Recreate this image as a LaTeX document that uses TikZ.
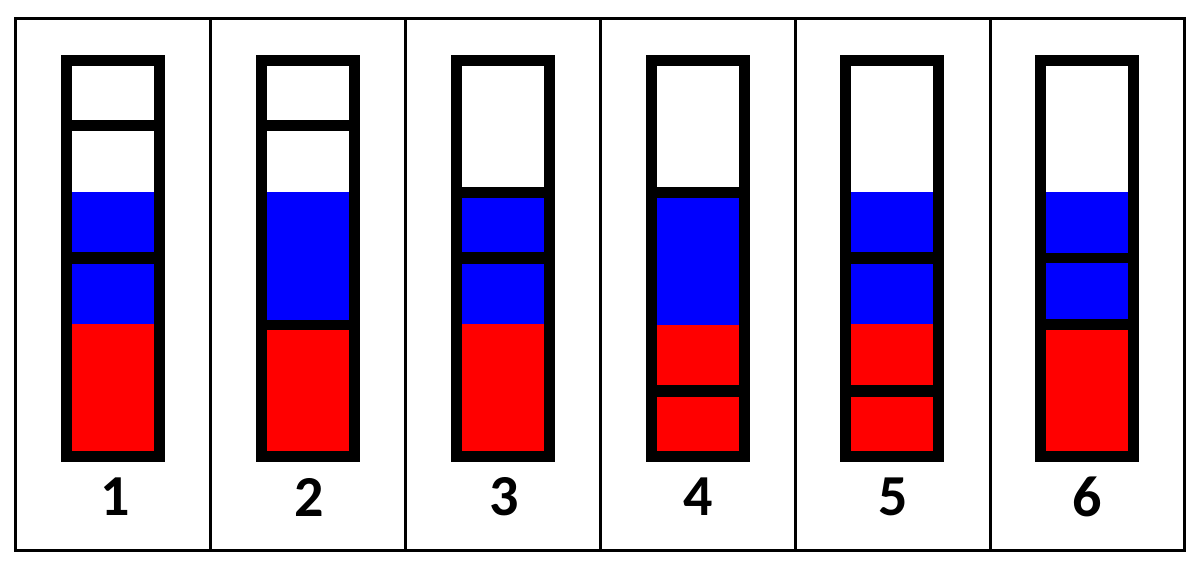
\documentclass[tikz,border=0pt]{standalone}
\usepackage{fontspec}
\setmainfont{Carlito}
\definecolor{tubeblue}{RGB}{0,0,255}
\definecolor{tubered}{RGB}{255,0,0}
\tikzset{
  frameline/.style={draw=black,line width=3pt},
  tubebody/.style={fill=black},
  wseg/.style={fill=white},
  bseg/.style={fill=tubeblue},
  rseg/.style={fill=tubered},
  numlabel/.style={font=\bfseries\fontsize{58}{58}\selectfont,inner sep=0pt,anchor=center}
}
\newcommand\tubeseg[4]{\fill[#1] (#2-41,#3) rectangle (#2+41,#4);}
\newcommand\tubebody[1]{\fill[tubebody] (#1-52,55) rectangle (#1+52,462);}
\begin{document}
\begin{tikzpicture}[x=1pt,y=-1pt]
\useasboundingbox (0,0) rectangle (1200,568);
\fill[white] (0,0) rectangle (1200,568);
% frame
\draw[frameline] (15,18) rectangle (1184,550);
\foreach \xx in {210,405,600,795,990} \draw[frameline] (\xx,18) -- (\xx,550);
% tube 1
\tubebody{112.5}
\tubeseg{wseg}{112.5}{66}{120}
\tubeseg{wseg}{112.5}{131}{192}
\tubeseg{bseg}{112.5}{192}{252}
\tubeseg{bseg}{112.5}{264}{324}
\tubeseg{rseg}{112.5}{324}{451}
% tube 2
\tubebody{307.5}
\tubeseg{wseg}{307.5}{66}{120}
\tubeseg{wseg}{307.5}{131}{192}
\tubeseg{bseg}{307.5}{192}{320}
\tubeseg{rseg}{307.5}{330}{451}
% tube 3
\tubebody{502.5}
\tubeseg{wseg}{502.5}{66}{187}
\tubeseg{bseg}{502.5}{198}{252}
\tubeseg{bseg}{502.5}{264}{324}
\tubeseg{rseg}{502.5}{324}{451}
% tube 4
\tubebody{697.5}
\tubeseg{wseg}{697.5}{66}{187}
\tubeseg{bseg}{697.5}{198}{325}
\tubeseg{rseg}{697.5}{325}{385}
\tubeseg{rseg}{697.5}{397}{451}
% tube 5
\tubebody{892}
\tubeseg{wseg}{892}{66}{192}
\tubeseg{bseg}{892}{192}{252}
\tubeseg{bseg}{892}{264}{324}
\tubeseg{rseg}{892}{324}{385}
\tubeseg{rseg}{892}{397}{451}
% tube 6
\tubebody{1086.5}
\tubeseg{wseg}{1086.5}{66}{192}
\tubeseg{bseg}{1086.5}{192}{253}
\tubeseg{bseg}{1086.5}{263}{319}
\tubeseg{rseg}{1086.5}{330}{451}
% labels
\node[numlabel] (l1) at (115,497) {1};
\node[numlabel] (l2) at (309,497) {2};
\node[numlabel] (l3) at (504,497) {3};
\node[numlabel] (l4) at (698,497) {4};
\node[numlabel] (l5) at (893,497) {5};
\node[numlabel] (l6) at (1087,497) {6};
\end{tikzpicture}
\end{document}
